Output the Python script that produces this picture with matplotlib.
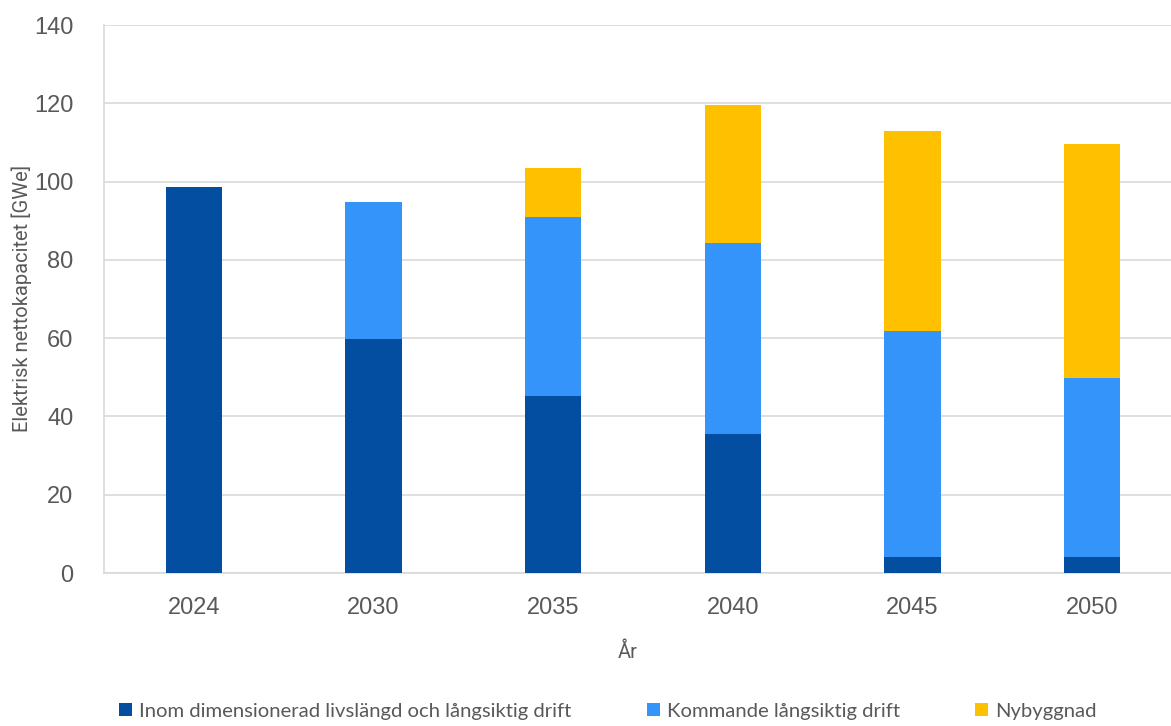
import numpy as np
import matplotlib.pyplot as plt
from matplotlib.patches import Patch

years = ['2024', '2030', '2035', '2040', '2045', '2050']
inom = [98.5, 59.8, 45.3, 35.4, 4.1, 4.1]
kommande = [0, 35.0, 45.7, 48.8, 57.7, 45.6]
nybygg = [0, 0, 12.4, 35.4, 51.1, 59.8]

labels = ['Inom dimensionerad livslängd och långsiktig drift',
          'Kommande långsiktig drift',
          'Nybyggnad']
colors = ['#044EA2', '#3494FA', '#FFC000']

plt.rcParams['font.family'] = ['Liberation Sans', 'DejaVu Sans']

fig = plt.figure(figsize=(11.71, 7.26), dpi=100)
ax = fig.add_axes([104/1171, 1 - 573/726, 1078/1171, 548/726])

x = np.arange(len(years))
w = 0.315
bottom = np.zeros(len(years))
for vals, c in zip([inom, kommande, nybygg], colors):
    ax.bar(x, vals, w, bottom=bottom, color=c, zorder=3)
    bottom += np.array(vals)

ax.set_xlim(-0.5, len(years) - 0.5)
ax.set_ylim(0, 140)
ax.set_yticks(np.arange(0, 141, 20))
ax.set_xticks(x)
ax.set_xticklabels(years)
ax.tick_params(axis='both', length=0, labelsize=17, colors='#595959')
ax.tick_params(axis='x', pad=17)
ax.tick_params(axis='y', pad=22)
ax.grid(axis='y', color='#d9d9d9', lw=1.2, zorder=0)
for s in ['top', 'right']:
    ax.spines[s].set_visible(False)
for s in ['left', 'bottom']:
    ax.spines[s].set_color('#d9d9d9')
    ax.spines[s].set_linewidth(1.2)

fig.text(22/1171, 1 - 298/726, 'Elektrisk nettokapacitet [GWe]', fontsize=14.5,
         family=['Roboto', 'DejaVu Sans'], color='#595959', rotation=90,
         ha='center', va='center')
fig.text(628/1171, 1 - 652/726, 'År', fontsize=14.5, family=['Roboto', 'DejaVu Sans'],
         color='#595959', ha='center', va='center')

handles = [Patch(facecolor=c, edgecolor='none') for c in colors]
leg = fig.legend(handles, labels, loc='center', bbox_to_anchor=(608/1171, 1 - 711/726),
                 ncol=3, frameon=False, handlelength=0.65, handleheight=0.65,
                 handletextpad=0.35, columnspacing=3.7, borderpad=0.1,
                 prop={'family': ['Lato', 'DejaVu Sans'], 'size': 14.6})
for t in leg.get_texts():
    t.set_color('#595959')

fig.savefig('out.png', dpi=100)
